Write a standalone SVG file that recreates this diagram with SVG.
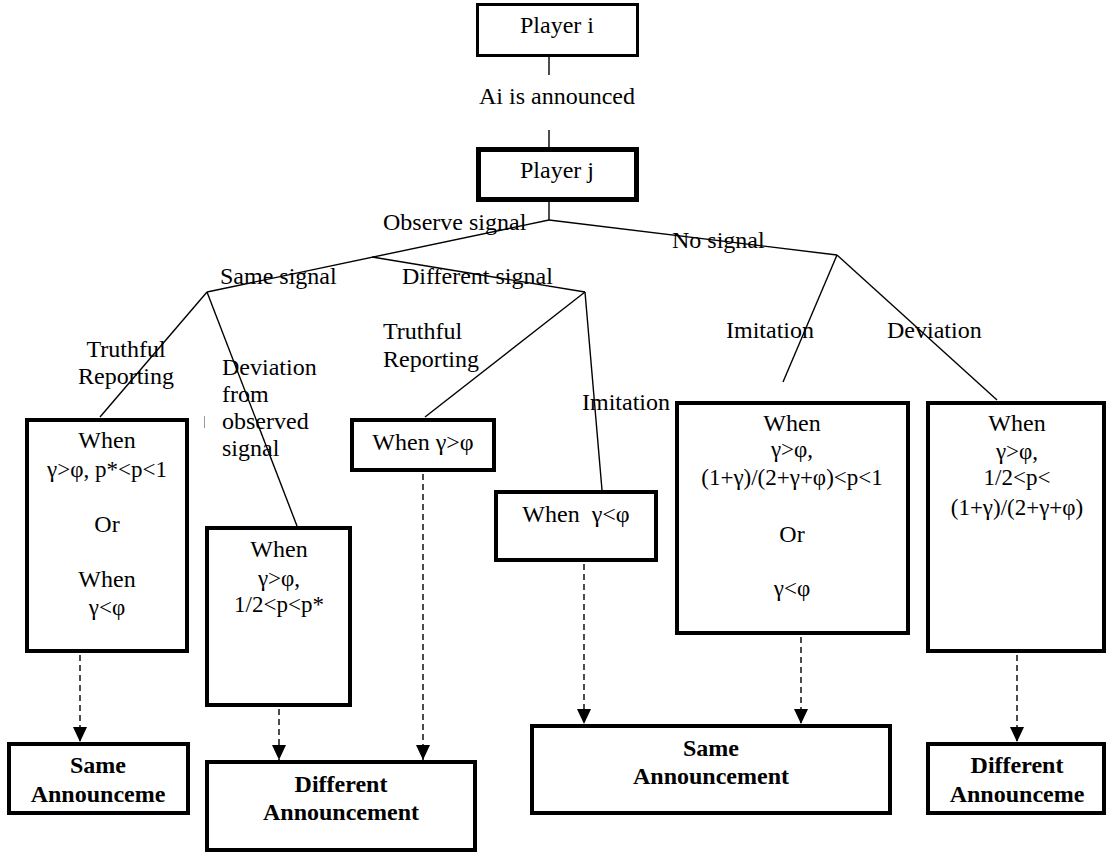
<svg xmlns="http://www.w3.org/2000/svg" width="1107" height="854" viewBox="0 0 1107 854" font-family="Liberation Serif, DejaVu Serif, serif">
<style>
text{font-family:'Liberation Serif','DejaVu Serif',serif;font-size:24px;fill:#000}
.c{text-anchor:middle}
.b{font-weight:bold}
.f{font-size:23px}
.box{fill:#fff;stroke:#000;stroke-width:4}
.ln{stroke:#000;stroke-width:1.4;fill:none}
.da{stroke:#000;stroke-width:1.4;fill:none;stroke-dasharray:6 4}
</style>
<defs>
<marker id="ah" markerUnits="userSpaceOnUse" markerWidth="16" markerHeight="16" viewBox="0 0 16 16" refX="15" refY="8" orient="auto">
<path d="M0,1 L15,8 L0,15 Z" fill="#000"/>
</marker>
</defs>
<rect width="1107" height="854" fill="#fff"/>
<g id="connectors">
<line class="ln" x1="549" y1="57" x2="549" y2="75"/>
<line class="ln" x1="549" y1="130" x2="549" y2="147"/>
<line class="ln" x1="549" y1="202" x2="549" y2="220"/>
<line class="ln" x1="549" y1="220" x2="207" y2="292"/>
<line class="ln" x1="372" y1="257" x2="585" y2="292"/>
<line class="ln" x1="549" y1="220" x2="837" y2="255"/>
<line class="ln" x1="207" y1="292" x2="100" y2="417"/>
<line class="ln" x1="207" y1="292" x2="297" y2="526"/>
<line class="ln" x1="585" y1="292" x2="425" y2="417"/>
<line class="ln" x1="585" y1="292" x2="602" y2="490"/>
<line class="ln" x1="837" y1="255" x2="783" y2="382"/>
<line class="ln" x1="837" y1="255" x2="997" y2="400"/>
<line class="da" x1="80" y1="655" x2="80" y2="742" marker-end="url(#ah)"/>
<line class="da" x1="279" y1="709" x2="279" y2="760" marker-end="url(#ah)"/>
<line class="da" x1="423" y1="474" x2="423" y2="760" marker-end="url(#ah)"/>
<line class="da" x1="584" y1="564" x2="584" y2="724" marker-end="url(#ah)"/>
<line class="da" x1="801" y1="637" x2="801" y2="724" marker-end="url(#ah)"/>
<line class="da" x1="1017" y1="655" x2="1017" y2="742" marker-end="url(#ah)"/>
<line x1="204.5" y1="416" x2="204.5" y2="428" stroke="#999" stroke-width="1"/>
</g>
<g id="labels">
<text x="557" y="104" class="c">Ai is announced</text>
<text x="383" y="230">Observe signal</text>
<text x="220" y="284">Same signal</text>
<text x="402" y="284">Different signal</text>
<text x="672" y="248">No signal</text>
<text x="126" y="357" class="c">Truthful</text>
<text x="126" y="384" class="c">Reporting</text>
<text x="222" y="375">Deviation</text>
<text x="222" y="402">from</text>
<text x="222" y="429">observed</text>
<text x="222" y="456">signal</text>
<text x="383" y="339">Truthful</text>
<text x="383" y="367">Reporting</text>
<text x="582" y="410">Imitation</text>
<text x="726" y="338">Imitation</text>
<text x="887" y="338">Deviation</text>
</g>
<g id="player-i">
<rect x="477.5" y="4.5" width="160" height="51" fill="#fff" stroke="#000" stroke-width="3"/>
<text x="557" y="33" class="c">Player i</text>
</g>
<g id="player-j">
<rect x="478.5" y="149.5" width="158" height="50" fill="#fff" stroke="#000" stroke-width="5"/>
<text x="557" y="178" class="c">Player j</text>
</g>
<g id="cond-truthful-same">
<rect class="box" x="27" y="420" width="160" height="231"/>
<text x="107" y="448" class="c">When</text>
<text x="107" y="477" class="c f">γ&gt;φ, p*&lt;p&lt;1</text>
<text x="107" y="532" class="c">Or</text>
<text x="107" y="587" class="c">When</text>
<text x="107" y="615" class="c f">γ&lt;φ</text>
</g>
<g id="cond-deviation-same">
<rect class="box" x="207" y="528" width="143" height="177"/>
<text x="279" y="557" class="c">When</text>
<text x="279" y="586" class="c f">γ&gt;φ,</text>
<text x="279" y="612" class="c f">1/2&lt;p&lt;p*</text>
</g>
<g id="cond-truthful-diff">
<rect class="box" x="352" y="420" width="142" height="50"/>
<text x="423" y="450" class="c">When γ&gt;φ</text>
</g>
<g id="cond-imitation-diff">
<rect class="box" x="496" y="492" width="160" height="68"/>
<text x="576" y="522" class="c" xml:space="preserve">When  γ&lt;φ</text>
</g>
<g id="cond-imitation-none">
<rect class="box" x="677" y="403" width="231" height="230"/>
<text x="792" y="431" class="c">When</text>
<text x="792" y="457" class="c f">γ&gt;φ,</text>
<text x="792" y="485" class="c f">(1+γ)/(2+γ+φ)&lt;p&lt;1</text>
<text x="792" y="542" class="c">Or</text>
<text x="792" y="596" class="c f">γ&lt;φ</text>
</g>
<g id="cond-deviation-none">
<rect class="box" x="928" y="403" width="176" height="248"/>
<text x="1017" y="431" class="c">When</text>
<text x="1017" y="459" class="c f">γ&gt;φ,</text>
<text x="1017" y="485" class="c f">1/2&lt;p&lt;</text>
<text x="1017" y="515" class="c f">(1+γ)/(2+γ+φ)</text>
</g>
<g id="out-same-left">
<rect class="box" x="9" y="744" width="179" height="69"/>
<text x="98" y="773" class="c b">Same</text>
<text x="98" y="802" class="c b">Announceme</text>
</g>
<g id="out-diff-left">
<rect class="box" x="207" y="762" width="268" height="88"/>
<text x="341" y="792" class="c b">Different</text>
<text x="341" y="820" class="c b">Announcement</text>
</g>
<g id="out-same-mid">
<rect class="box" x="532" y="726" width="358" height="87"/>
<text x="711" y="756" class="c b">Same</text>
<text x="711" y="784" class="c b">Announcement</text>
</g>
<g id="out-diff-right">
<rect class="box" x="928" y="744" width="176" height="69"/>
<text x="1017" y="773" class="c b">Different</text>
<text x="1017" y="802" class="c b">Announceme</text>
</g>
</svg>
